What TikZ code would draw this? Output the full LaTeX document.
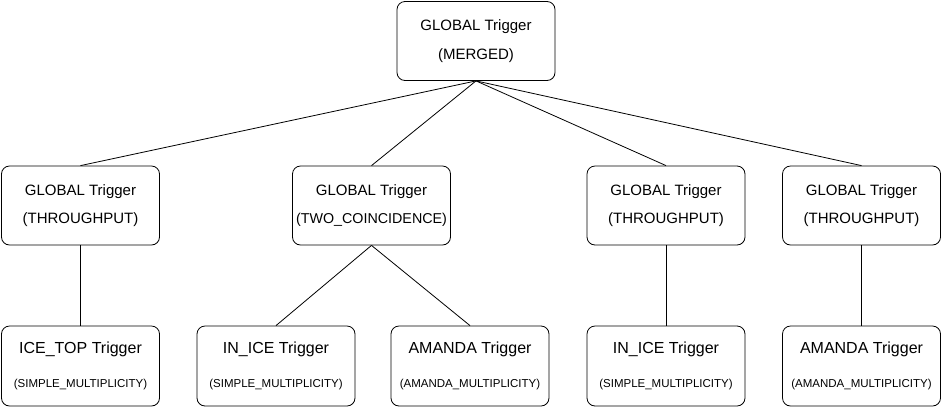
\documentclass[tikz,border=0pt]{standalone}
\usepackage{fontspec}
\setmainfont{Liberation Sans}
\usetikzlibrary{positioning}

\tikzset{
  trig/.style={draw, rounded corners=8pt, minimum width=158pt, minimum height=79pt,
    inner sep=0pt, align=center, line width=0.8pt, font=\fontsize{15}{28.5}\selectfont},
  leaf/.style={trig, minimum height=80pt, font=\fontsize{16}{34}\selectfont}
}
\newcommand{\subtxt}[1]{{\fontsize{11.5}{34}\selectfont #1}}

\begin{document}
\begin{tikzpicture}[x=1pt,y=-1pt]
            \useasboundingbox (0,0) rectangle (948,408);
            % top
            \node[trig] (merged) at (476,41) {GLOBAL Trigger\\(MERGED)};
            % second row
            \node[trig] (thrA) at (80.5,205.5) {GLOBAL Trigger\\(THROUGHPUT)};
            \node[trig] (twoco) at (371.5,205.5) {GLOBAL Trigger\\{\fontsize{14.3}{28.5}\selectfont(TWO\_COINCIDENCE)}};
            \node[trig] (thrB) at (666,205.5) {GLOBAL Trigger\\(THROUGHPUT)};
            \node[trig] (thrC) at (861.5,205.5) {GLOBAL Trigger\\(THROUGHPUT)};
            % bottom row
            \node[leaf] (icetop) at (80.5,366) {ICE\_TOP Trigger\\\subtxt{(SIMPLE\_MULTIPLICITY)}};
            \node[leaf] (iniceA) at (276,366) {IN\_ICE Trigger\\\subtxt{(SIMPLE\_MULTIPLICITY)}};
            \node[leaf] (amandaA) at (470,366) {AMANDA Trigger\\\subtxt{(AMANDA\_MULTIPLICITY)}};
            \node[leaf] (iniceB) at (666,366) {IN\_ICE Trigger\\\subtxt{(SIMPLE\_MULTIPLICITY)}};
            \node[leaf] (amandaB) at (861.5,366) {AMANDA Trigger\\\subtxt{(AMANDA\_MULTIPLICITY)}};
            % connections
            \foreach \c in {thrA,twoco,thrB,thrC}
              \draw[line width=0.8pt] (merged.south) -- (\c.north);
            \draw[line width=0.8pt] (thrA.south) -- (icetop.north);
            \draw[line width=0.8pt] (twoco.south) -- (iniceA.north);
            \draw[line width=0.8pt] (twoco.south) -- (amandaA.north);
            \draw[line width=0.8pt] (thrB.south) -- (iniceB.north);
            \draw[line width=0.8pt] (thrC.south) -- (amandaB.north);
        \end{tikzpicture}
\end{document}
